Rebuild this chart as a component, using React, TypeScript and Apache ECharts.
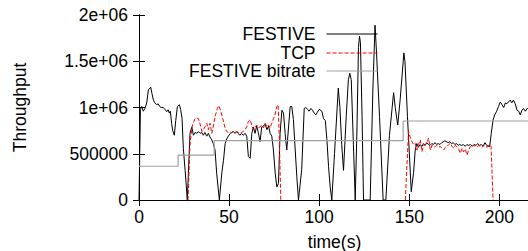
import React, { useEffect, useRef } from 'react';
import * as echarts from 'echarts';

const seriesNames = ['FESTIVE', 'TCP', 'FESTIVE bitrate'];
const xTickValues = [0, 50, 100, 150, 200];
const yTickValues = [0, 500000, 1000000, 1500000, 2000000];
const yTickLabels = ['0', '500000', '1e+06', '1.5e+06', '2e+06'];

// FESTIVE throughput [time(s), bytes/s]
const festiveData: [number, number][] = [
  [0, 0], [0.8, 980000], [1.5, 1010000], [2.4, 960000], [3.3, 990000], [4.3, 1050000],
  [5.2, 1190000], [6.5, 1220000], [7.2, 1150000], [8.0, 1080000], [8.8, 1050000],
  [9.8, 1030000], [10.6, 1040000], [11.5, 1010000], [12.4, 1000000], [13.5, 1000000],
  [14.4, 980000], [15.4, 955000], [16.2, 975000], [16.8, 940000], [17.4, 960000],
  [18.1, 830000], [18.7, 750000], [19.6, 700000], [20.4, 860000], [21.3, 1010000],
  [22.4, 1030000], [23.1, 980000], [23.9, 880000], [24.6, 560000], [25.6, 320000],
  [26.8, 0], [28.3, 720000], [29.3, 790000], [30.2, 700000], [31.1, 730000],
  [32.1, 720000], [33.0, 740000], [33.9, 720000], [34.8, 730000], [35.7, 700000],
  [36.6, 730000], [37.6, 690000], [38.5, 720000], [39.4, 680000], [40.4, 650000],
  [41.2, 610000], [42.2, 540000], [43.1, 290000], [44.6, 0], [46.0, 300000],
  [46.9, 430000], [47.8, 610000], [48.7, 660000], [49.6, 690000], [50.6, 720000],
  [51.5, 730000], [52.4, 740000], [53.3, 720000], [54.2, 740000], [55.1, 720000],
  [56.0, 700000], [56.9, 720000], [57.8, 700000], [58.9, 720000], [59.8, 690000],
  [60.7, 470000], [61.7, 450000], [62.6, 720000], [63.5, 790000], [64.4, 720000],
  [65.3, 800000], [66.2, 730000], [67.2, 630000], [68.1, 790000], [69.1, 800000],
  [70.0, 820000], [71.0, 760000], [71.9, 800000], [72.8, 720000], [73.7, 690000],
  [74.6, 540000], [75.6, 290000], [76.5, 140000], [77.4, 180000], [78.3, 720000],
  [79.3, 970000], [80.2, 940000], [81.1, 720000], [82.0, 540000], [83.0, 790000],
  [83.9, 1010000], [84.8, 1010000], [85.7, 870000], [86.7, 540000], [87.6, 250000],
  [88.5, 0], [90.3, 330000], [91.7, 990000], [92.6, 1000000], [93.5, 980000],
  [94.4, 960000], [95.4, 990000], [96.3, 970000], [97.2, 940000], [98.1, 920000],
  [99.0, 950000], [100.0, 980000], [101.5, 960000], [102.4, 880000], [103.4, 860000],
  [104.3, 650000], [105.2, 360000], [106.1, 140000], [107.0, 0], [108.5, 500000],
  [110.6, 1210000], [111.5, 1000000], [112.5, 600000], [113.5, 320000], [115.0, 900000],
  [116.2, 1300000], [117.0, 1370000], [117.8, 1300000], [119.0, 600000], [120.0, 0],
  [121.0, 800000], [121.8, 1650000], [122.4, 1770000], [122.9, 1700000], [123.8, 900000],
  [124.6, 0], [128.3, 0], [129.8, 1200000], [131.0, 1890000], [131.8, 1600000],
  [133.5, 900000], [135.5, 0], [137.0, 0], [139.0, 700000], [141.3, 1160000],
  [142.2, 1000000], [143.6, 810000], [145.0, 1100000], [147.0, 1590000], [147.6, 1500000],
  [149.0, 900000], [151.1, 90000], [152.4, 300000], [153.3, 540000], [154.2, 610000],
  [155.1, 570000], [156.0, 600000], [157.0, 580000], [157.9, 610000], [158.8, 590000],
  [159.7, 620000], [160.6, 600000], [161.5, 590000], [162.5, 610000], [163.4, 600000],
  [164.3, 620000], [165.2, 600000], [166.1, 610000], [167.0, 600000], [168.0, 620000],
  [168.9, 630000], [169.8, 640000], [170.7, 630000], [171.6, 620000], [172.5, 630000],
  [173.5, 610000], [174.4, 620000], [175.3, 600000], [176.2, 610000], [177.1, 590000],
  [178.0, 600000], [179.0, 590000], [180.0, 600000], [181.0, 580000], [182.0, 600000],
  [183.0, 590000], [184.0, 600000], [185.0, 580000], [186.0, 600000], [187.0, 590000],
  [188.0, 610000], [189.0, 590000], [190.0, 600000], [191.0, 580000], [192.0, 620000],
  [193.0, 590000], [194.6, 576000], [195.5, 720000], [196.5, 865000], [197.4, 920000],
  [198.5, 960000], [199.5, 1010000], [200.5, 1060000], [201.5, 1030000], [202.4, 1000000],
  [203.3, 1050000], [204.2, 1040000], [205.1, 1060000], [206.0, 1080000], [206.9, 1050000],
  [207.8, 1080000], [208.8, 1040000], [209.8, 970000], [210.7, 960000], [211.6, 920000],
  [212.5, 970000], [213.4, 990000], [214.4, 960000], [215.5, 990000], [217.0, 970000],
];

// TCP throughput [time(s), bytes/s]; '-' = no data
const tcpData: (number | string)[][] = [
  [27.2, 0], [28.3, 600000], [29.4, 790000], [30.2, 836000], [31.1, 880000], [32.1, 886000],
  [33.0, 880000], [33.9, 820000], [35.0, 740000], [35.7, 760000], [36.6, 790000],
  [37.6, 830000], [38.5, 760000], [39.4, 830000], [40.4, 720000], [41.2, 790000],
  [42.2, 900000], [43.5, 990000], [44.3, 1020000], [45.4, 960000], [46.5, 880000],
  [47.8, 775000], [48.7, 740000], [49.6, 730000], [50.6, 720000], [51.5, 730000],
  [52.4, 740000], [53.3, 735000], [54.2, 740000], [55.1, 730000], [56.0, 720000],
  [56.9, 730000], [57.8, 740000], [58.9, 760000], [59.8, 790000], [60.7, 850000],
  [61.7, 865000], [62.6, 810000], [63.5, 760000], [64.4, 790000], [65.3, 810000],
  [66.2, 780000], [67.2, 790000], [68.1, 810000], [69.1, 780000], [70.0, 830000],
  [71.0, 790000], [71.9, 810000], [72.8, 780000], [73.7, 830000], [74.6, 880000],
  [75.6, 930000], [76.5, 1010000], [77.2, 1030000], [77.8, 720000], [78.7, 0],
  ['-', '-'],
  [147.8, 0], [149.6, 740000], [150.5, 680000], [151.5, 630000], [152.4, 600000],
  [153.3, 613000], [154.2, 540000], [155.1, 600000], [156.1, 650000], [157.0, 523000],
  [158.0, 590000], [158.9, 600000], [159.8, 620000], [160.7, 670000], [161.7, 540000],
  [162.6, 590000], [163.5, 570000], [164.4, 577000], [165.3, 590000], [166.3, 570000],
  [167.2, 580000], [168.1, 560000], [169.1, 540000], [170.0, 570000], [170.9, 580000],
  [171.9, 600000], [172.8, 613000], [173.7, 580000], [174.6, 560000], [175.5, 590000],
  [176.5, 575000], [177.4, 550000], [178.3, 505000], [179.3, 560000], [180.2, 520000],
  [181.1, 550000], [182.0, 486000], [183.0, 540000], [183.9, 580000], [184.8, 570000],
  [185.7, 595000], [186.6, 580000], [187.6, 570000], [188.5, 590000], [189.4, 580000],
  [190.4, 570000], [191.3, 595000], [192.2, 580000], [193.2, 570000], [194.1, 595000],
  [195.4, 580000], [196.5, 0],
];

// FESTIVE bitrate (step) [time(s), bytes/s]
const bitrateData: [number, number][] = [
  [0, 365000], [21.7, 486000], [41.7, 641000], [146.6, 854000], [217, 854000],
];

const FONT = '"Liberation Sans", Arial, Helvetica, sans-serif';
const FS = 17.5;

export default function App() {
  const ref = useRef<HTMLDivElement>(null);
  useEffect(() => {
    if (!ref.current) return;
    const chart = echarts.init(ref.current, undefined, { renderer: 'svg' });
    const legendBase = {
      orient: 'horizontal',
      right: 150,
      padding: 0,
      itemWidth: 51,
      itemHeight: 14,
      align: 'right',
      selectedMode: false,
      itemStyle: { opacity: 0 },
      lineStyle: { width: 1 },
      textStyle: {
        fontSize: FS, lineHeight: 17, color: '#000', fontFamily: FONT, padding: [0, 6, 0, 0],
      },
    };
    const axisLine = { show: true, lineStyle: { color: '#000', width: 1 } };
    const axisTick = { show: true, inside: true, length: 6, lineStyle: { color: '#000', width: 1 } };
    chart.setOption({
      animation: false,
      backgroundColor: '#fff',
      textStyle: { fontFamily: FONT },
      grid: { left: 139, top: 15, right: -2, bottom: 51, containLabel: false, outerBoundsMode: 'none' },
      legend: [
        { ...legendBase, top: 25, data: [seriesNames[0]] },
        { ...legendBase, top: 44, data: [seriesNames[1]] },
        { ...legendBase, top: 62, data: [seriesNames[2]] },
      ],
      xAxis: [
        {
          type: 'value', min: 0, max: 217, interval: 50, position: 'bottom',
          name: 'time(s)', nameLocation: 'middle', nameGap: 33,
          nameTextStyle: { fontSize: FS, color: '#000', fontFamily: FONT },
          axisLine, axisTick, splitLine: { show: false },
          axisLabel: {
            show: true, margin: 8, fontSize: FS, color: '#000', fontFamily: FONT,
            showMaxLabel: false,
            formatter: (v: number) => (xTickValues.includes(v) ? String(v) : ''),
          },
        },
        {
          type: 'value', min: 0, max: 217, interval: 50, position: 'top',
          axisLine, axisTick, splitLine: { show: false }, axisLabel: { show: false },
        },
      ],
      yAxis: [
        {
          type: 'value', min: 0, max: 2000000, interval: 500000, position: 'left',
          name: 'Throughput', nameLocation: 'middle', nameGap: 110,
          nameTextStyle: { fontSize: FS, color: '#000', fontFamily: FONT },
          axisLine, axisTick, splitLine: { show: false },
          axisLabel: {
            show: true, margin: 11, fontSize: FS, color: '#000', fontFamily: FONT,
            formatter: (v: number) => {
              const i = yTickValues.indexOf(v);
              return i >= 0 ? yTickLabels[i] : '';
            },
          },
        },
        {
          type: 'value', min: 0, max: 2000000, interval: 500000, position: 'right',
          axisLine, axisTick, splitLine: { show: false }, axisLabel: { show: false },
        },
      ],
      series: [
        {
          name: seriesNames[0], type: 'line', data: festiveData, symbol: 'none',
          lineStyle: { color: '#000', width: 1 }, itemStyle: { color: '#000' },
        },
        {
          name: seriesNames[1], type: 'line', data: tcpData, symbol: 'none', connectNulls: false,
          lineStyle: { color: '#ff0000', width: 1, type: [4, 2] }, itemStyle: { color: '#ff0000' },
        },
        {
          name: seriesNames[2], type: 'line', data: bitrateData, symbol: 'none', step: 'end',
          lineStyle: { color: '#a0a0a0', width: 1.2 }, itemStyle: { color: '#a0a0a0' },
        },
      ],
    });
    return () => chart.dispose();
  }, []);
  return (
    <div
      ref={ref}
      style={{ position: 'absolute', left: 0, top: 0, width: 528, height: 251, overflow: 'hidden' }}
    />
  );
}
